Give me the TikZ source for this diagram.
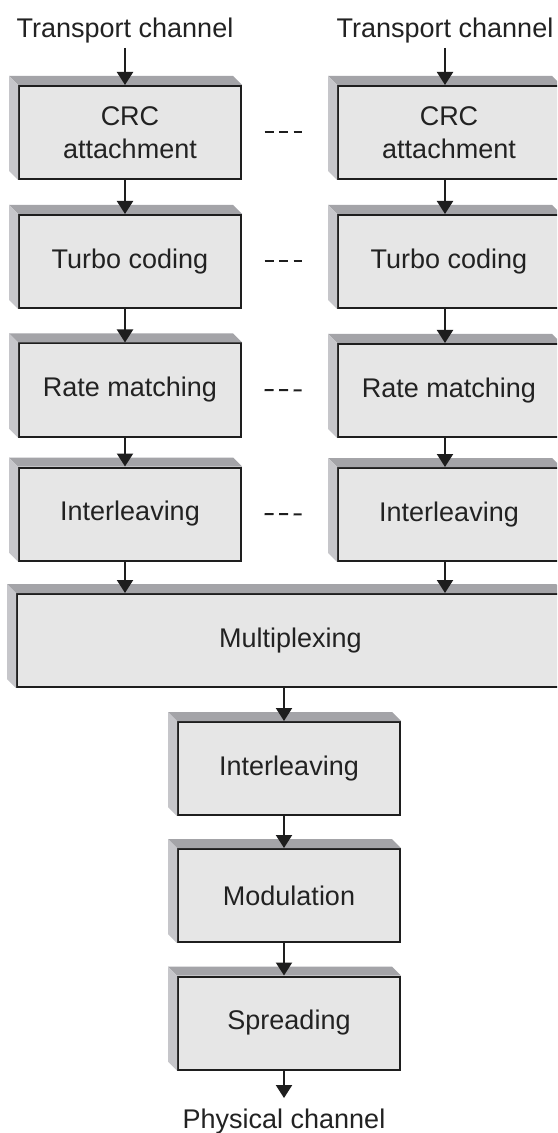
\documentclass[tikz,border=0pt]{standalone}
\usepackage{fontspec}
\setmainfont{Liberation Sans}
\usetikzlibrary{arrows.meta,calc}
\definecolor{frontc}{HTML}{E6E6E6}
\definecolor{topc}{HTML}{A4A4A8}
\definecolor{sidec}{HTML}{C6C6CA}
\definecolor{linec}{HTML}{1E1E1E}
\definecolor{textc}{HTML}{222222}
\tikzset{
  box/.style={draw=linec, fill=frontc, line width=1pt, minimum height=46.5pt,
    inner sep=0pt, align=center, text=textc,
    font=\fontsize{13.5}{16.5}\selectfont},
  lbl/.style={inner sep=3pt, text=textc, font=\fontsize{13.5}{16.5}\selectfont},
  arr/.style={-{Triangle[length=6.5pt,width=8pt]}, line width=1pt, draw=linec},
  dots/.style={draw=linec, line width=1pt, dash pattern=on 4.5pt off 2.75pt},
  topband/.style={fill=topc},
  sideband/.style={fill=sidec},
}
\newcommand\threedbox[5]{%
  \node[box, minimum width=#4*0.5pt] (#1) at (#2,#3) {#5};
  \fill[topband] (#1.north west) -- ++(-9,-9) -- ($(#1.north east)+(-9,-9)$) -- (#1.north east) -- cycle;
  \fill[sideband] (#1.north west) -- ++(-9,-9) -- ($(#1.south west)+(-9,-9)$) -- (#1.south west) -- cycle;
}
\begin{document}
\begin{tikzpicture}[x=0.5pt, y=-0.5pt]
\useasboundingbox (0,0) rectangle (557,1133);
\clip (0,0) rectangle (557,1133);
\fill[white] (0,0) rectangle (557,1133);

% labels
\node[lbl, anchor=base, inner sep=2pt] (tcL) at (125,38) {Transport channel};
\node[lbl, anchor=base, inner sep=2pt] (tcR) at (445,38) {Transport channel};
\node[lbl, anchor=base, inner sep=5pt] (pc) at (284,1128) {Physical channel};

% left column
\threedbox{crcL}{130}{132.5}{222}{CRC\\attachment}
\threedbox{turL}{130}{261.5}{222}{Turbo coding}
\threedbox{ratL}{130}{390}{222}{Rate matching}
\threedbox{intL}{130}{514}{222}{Interleaving}
% right column
\threedbox{crcR}{449}{132.5}{222}{CRC\\attachment}
\threedbox{turR}{449}{261.5}{222}{Turbo coding}
\threedbox{ratR}{449}{390.5}{222}{Rate matching}
\threedbox{intR}{449}{514.5}{222}{Interleaving}
% multiplexing and lower chain
\threedbox{mux}{290.5}{640.5}{547}{Multiplexing}
\threedbox{int2}{289}{768.5}{222}{Interleaving}
\threedbox{mod}{289}{895.5}{222}{Modulation}
\threedbox{spr}{289}{1023}{222}{Spreading}

% dashes between columns
\foreach \a/\b in {crcL/crcR, turL/turR, ratL/ratR, intL/intR}
  \draw[dots, shorten <=11.25pt, shorten >=17.75pt] (\a.east) -- (\b.west);

% arrows, left column
\draw[arr] (tcL.south) -- (tcL.south |- crcL.north);
\draw[arr] ([xshift=-2.5pt]crcL.south) -- ([xshift=-2.5pt]turL.north);
\draw[arr] ([xshift=-2.5pt]turL.south) -- ([xshift=-2.5pt]ratL.north);
\draw[arr] ([xshift=-2.5pt]ratL.south) -- ([xshift=-2.5pt]intL.north);
\coordinate (aL) at ([xshift=-2.5pt]intL.south);
\draw[arr] (aL) -- (aL |- mux.north);
% arrows, right column
\draw[arr] (tcR.south) -- (tcR.south |- crcR.north);
\draw[arr] ([xshift=-2pt]crcR.south) -- ([xshift=-2pt]turR.north);
\draw[arr] ([xshift=-2pt]turR.south) -- ([xshift=-2pt]ratR.north);
\draw[arr] ([xshift=-2pt]ratR.south) -- ([xshift=-2pt]intR.north);
\coordinate (aR) at ([xshift=-2pt]intR.south);
\draw[arr] (aR) -- (aR |- mux.north);
% lower chain
\coordinate (aM) at ([xshift=-2.5pt]int2.north);
\draw[arr] (aM |- mux.south) -- (aM);
\draw[arr] ([xshift=-2.5pt]int2.south) -- ([xshift=-2.5pt]mod.north);
\draw[arr] ([xshift=-2.5pt]mod.south) -- ([xshift=-2.5pt]spr.north);
\draw[arr] (pc.north |- spr.south) -- (pc.north);
\end{tikzpicture}
\end{document}
